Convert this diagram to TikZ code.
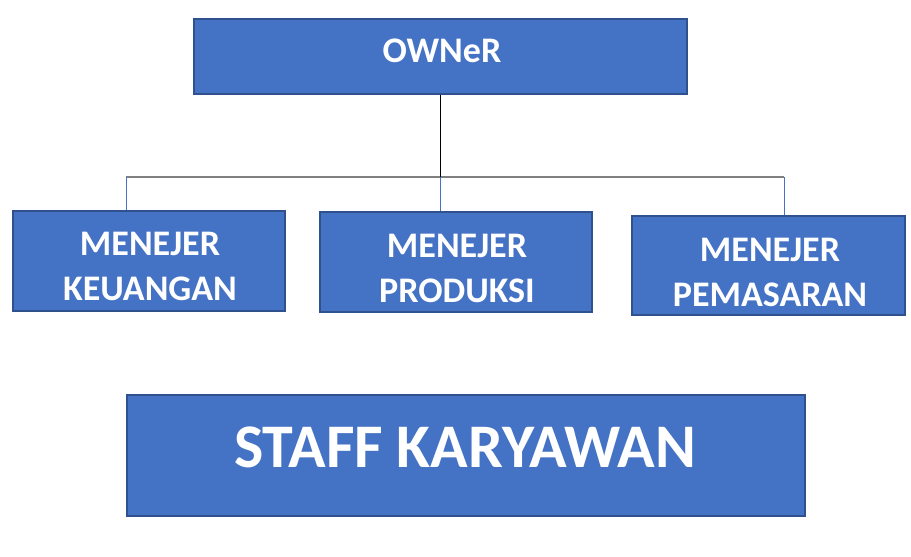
\documentclass[tikz,border=0pt]{standalone}
\usepackage{fontspec}
\setmainfont{Carlito}
\definecolor{boxfill}{HTML}{4472C4}
\definecolor{boxedge}{HTML}{2F528F}
\definecolor{busgray}{HTML}{808080}
\begin{document}
\begin{tikzpicture}[x=1pt,y=-1pt,
  box/.style={draw=boxedge,fill=boxfill,line width=1.2pt,inner sep=0pt,minimum width=#1},
  txt/.style={text=white,font=\bfseries\fontsize{36}{45}\selectfont,align=center,inner sep=0pt,anchor=base},
  bigtxt/.style={text=white,font=\bfseries\fontsize{62}{72}\selectfont,inner sep=0pt,anchor=base},
  bus/.style={draw=busgray,line width=1.3pt},
  drop/.style={draw=boxfill,line width=0.8pt}]
\useasboundingbox (0,0) rectangle (911,557);
\node[box=493pt,minimum height=75pt] (owner) at (440.5,56.5) {};
\node[box=272pt,minimum height=100pt] (keu) at (149,261) {};
\node[box=272pt,minimum height=100pt] (prod) at (456,262) {};
\node[box=273pt,minimum height=99pt] (pem) at (768.5,265.5) {};
\node[box=678pt,minimum height=121pt] (staff) at (466,455.5) {};
\node[txt] (townr) at (442,62) {OWNeR};
\node[txt] (tkeu) at (150,300) {MENEJER\\KEUANGAN};
\node[txt] (tprod) at (457,302) {MENEJER\\PRODUKSI};
\node[txt] (tpem) at (770,306) {MENEJER\\PEMASARAN};
\node[bigtxt] (tstaff) at (465,467) {STAFF KARYAWAN};
\coordinate (b1) at (126,177);
\coordinate (b2) at (440.5,177);
\coordinate (b3) at (784,177);
\draw[bus] (b1) -- (b3);
\draw[black,line width=0.9pt] (owner.south -| b2) -- (b2);
\draw[drop] (b1) -- (b1 |- keu.north);
\draw[drop] (b2) -- (b2 |- prod.north);
\draw[drop] (b3) -- (b3 |- pem.north);
\end{tikzpicture}
\end{document}
